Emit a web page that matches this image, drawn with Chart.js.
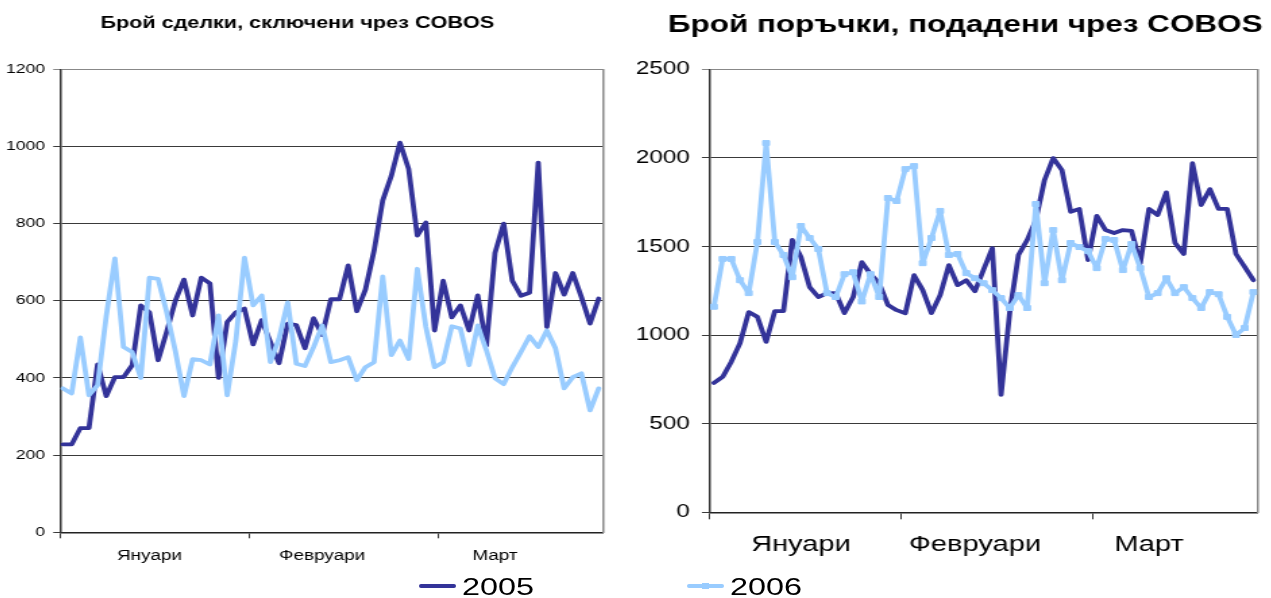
<!DOCTYPE html>
<html>
<head>
<meta charset="utf-8">
<script src="https://cdn.jsdelivr.net/npm/chart.js@4"></script>
<style>
  body { margin: 0; width: 1271px; height: 598px; overflow: hidden; background: #fff; position: relative; font-family: 'Liberation Sans', Arial, sans-serif; }
  .wrap { position: absolute; top: 0; transform: scaleX(1.35); transform-origin: 0 0; }
  .key { position: absolute; height: 4px; border-radius: 2px; }
  .keytext { position: absolute; font-size: 24px; line-height: 28px; color: #000; transform: scaleX(1.35); transform-origin: 0 50%; }
</style>
</head>
<body>
<div class="wrap" style="left:-20px"><canvas id="deals" width="470" height="598"></canvas></div>
<div class="wrap" style="left:625px"><canvas id="orders" width="504" height="598"></canvas></div>

<div class="key" style="left:419px; top:584px; width:37px; background:#333399"></div>
<div class="keytext" style="left:462px; top:573px">2005</div>
<div class="key" style="left:687px; top:584px; width:37px; background:#99ccff"></div>
<div class="key" style="left:702px; top:583px; width:7px; height:6px; border-radius:0; background:#99ccff"></div>
<div class="keytext" style="left:730px; top:573px">2006</div>

<script>
//------------- DATA -----------------

const years = ['2005', '2006'];
const months = ['Януари', 'Февруари', 'Март'];

// number of trades per trading day, Jan - Mar
const deals2005 = [228,228,270,270,435,353,402,402,433,588,570,446,520,600,655,562,660,645,400,545,
  570,580,487,550,493,438,541,537,477,555,511,604,604,692,573,629,730,860,924,1010,
  942,769,803,523,652,557,588,523,614,484,724,800,652,613,621,958,532,672,616,672,610,541,606];
const deals2006 = [373,360,505,355,381,560,710,480,467,400,660,657,570,470,353,449,446,435,562,355,
  497,712,588,614,441,502,596,437,431,480,536,441,446,454,394,428,441,663,459,497,
  449,683,532,428,441,534,528,433,536,472,399,384,428,467,508,480,523,477,373,402,412,316,373];

// number of orders per trading day, Jan - Mar
const orders2005 = [730,764,850,955,1130,1103,962,1136,1136,1537,1441,1271,1215,1237,1237,1124,1215,1412,1344,1293,
  1170,1141,1124,1338,1254,1124,1226,1395,1282,1310,1248,1370,1491,663,1130,1452,1537,1650,1876,1999,
  1931,1696,1712,1424,1673,1593,1576,1593,1588,1406,1712,1678,1806,1520,1458,1970,1734,1824,1712,1712,1458,1385,1310];
const orders2006 = [1160,1430,1430,1310,1237,1526,2084,1526,1452,1327,1616,1548,1486,1237,1215,1344,1355,1190,1344,1215,
  1774,1757,1937,1954,1406,1548,1701,1452,1458,1350,1321,1293,1254,1209,1153,1226,1153,1740,1293,1593,
  1310,1520,1497,1474,1378,1543,1537,1367,1514,1378,1215,1237,1321,1237,1271,1209,1153,1243,1231,1103,1001,1040,1243];

const days = deals2005.map((_, i) => i);

const FONT = "'Liberation Sans', Arial, sans-serif";
const DARK = '#333399';
const LIGHT = '#99ccff';

// month label sits mid-month, month boundaries get a tick mark
const monthMid = [10, 30, 50];
const monthEdge = [21.5, 43.5];


//------------- OPTIONS -----------------

function buildOptions(o) {
  const xTicks = [o.xMin, monthMid[0], monthEdge[0], monthMid[1], monthEdge[1], monthMid[2]];
  return {
    responsive: false,
    animation: false,
    events: [],
    layout: { padding: { left: 0, right: 0, top: 0, bottom: o.bottomPad } },
    plugins: {
      legend: { display: false },
      tooltip: { enabled: false },
      title: {
        display: true,
        text: o.title,
        color: '#000',
        font: { family: FONT, size: o.titleSize, weight: 'bold' },
        padding: { top: o.titleTop, bottom: o.titleBottom }
      }
    },
    scales: {
      x: {
        type: 'linear',
        min: o.xMin,
        max: 62.5,
        afterBuildTicks: s => { s.ticks = xTicks.map(v => ({ value: v })); },
        afterFit: s => { s.height = o.xHeight; },
        ticks: {
          autoSkip: false,
          maxRotation: 0,
          padding: o.xPad,
          color: '#000',
          font: { family: FONT, size: o.xFont },
          callback: v => {
            const k = monthMid.indexOf(v);
            return k >= 0 ? months[k] : '';
          }
        },
        grid: {
          drawOnChartArea: false,
          tickLength: o.xTick,
          lineWidth: 1,
          color: c => (c.tick && monthMid.includes(c.tick.value)) ? 'rgba(0,0,0,0)' : '#333'
        },
        border: { color: '#222', width: 1.5 }
      },
      y: {
        min: 0,
        max: o.yMax,
        afterFit: s => { s.width = o.yWidth; },
        ticks: {
          stepSize: o.yStep,
          padding: o.yPad,
          color: '#000',
          font: { family: FONT, size: o.yFont },
          callback: v => String(v)
        },
        grid: {
          tickLength: o.yTick,
          lineWidth: 1,
          color: c => (c.tick && c.tick.value === o.yMax) ? '#888' : '#3a3a3a'
        },
        border: { color: '#333', width: 1.5 }
      },
      edge: {
        type: 'linear',
        position: 'right',
        afterFit: s => { s.width = o.edgeWidth; },
        ticks: { display: false },
        grid: { drawOnChartArea: false, drawTicks: false, color: 'rgba(0,0,0,0)' },
        border: { color: '#8a8a8a', width: 1.5 }
      }
    }
  };
}

function series(label, values, colour, order, marker) {
  return {
    label: label,
    data: values,
    borderColor: colour,
    backgroundColor: colour,
    borderWidth: 3.8,
    borderJoinStyle: 'round',
    borderCapStyle: 'round',
    tension: 0,
    fill: false,
    order: order,
    pointStyle: 'rect',
    pointRadius: marker ? 3.5 : 0,
    pointBorderWidth: 1,
    pointBorderColor: colour,
    pointBackgroundColor: colour
  };
}


//------------- CHARTS -----------------

const chartDeals = new Chart(document.getElementById('deals'), {
  type: 'line',
  data: {
    labels: days,
    datasets: [
      series(years[0], deals2005, DARK, 1, false),
      series(years[1], deals2006, LIGHT, 0, false)
    ]
  },
  options: buildOptions({
    title: 'Брой сделки, сключени чрез COBOS',
    titleSize: 16, titleTop: 13.7, titleBottom: 36.4,
    xMin: -0.35, xHeight: 40, xPad: 9.5, xTick: 6, xFont: 14,
    yMax: 1200, yStep: 200, yWidth: 59.26, yPad: 6, yTick: 5, yFont: 13,
    edgeWidth: 8.52, bottomPad: 25.7
  })
});

const chartOrders = new Chart(document.getElementById('orders'), {
  type: 'line',
  data: {
    labels: days,
    datasets: [
      series(years[0], orders2005, DARK, 1, false),
      series(years[1], orders2006, LIGHT, 0, true)
    ]
  },
  options: buildOptions({
    title: 'Брой поръчки, подадени чрез COBOS',
    titleSize: 23.3, titleTop: 12, titleBottom: 29.4,
    xMin: -0.45, xHeight: 50, xPad: 12.8, xTick: 7, xFont: 21.5,
    yMax: 2500, yStep: 500, yWidth: 62.96, yPad: 9, yTick: 6, yFont: 18,
    edgeWidth: 35.33, bottomPad: 35.7
  })
});
</script>
</body>
</html>
